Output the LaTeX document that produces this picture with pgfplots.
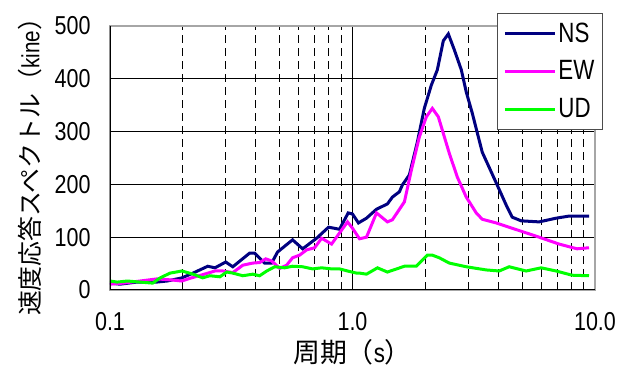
\documentclass[border=0pt]{standalone}
\usepackage{pgfplots}
\pgfplotsset{compat=1.18}
\usepackage{fontspec}
\setmainfont{Liberation Sans}
\newfontfamily\narrowfont[FakeStretch=0.83]{Liberation Sans}
\newfontfamily\legfont[FakeStretch=0.8]{Liberation Sans}
\newfontfamily\cjk{Noto Sans CJK JP}
\definecolor{nsblue}{RGB}{0,0,128}
\definecolor{ewmag}{RGB}{255,0,255}
\definecolor{udgreen}{RGB}{0,255,0}
\begin{document}
\begin{tikzpicture}
\useasboundingbox (-55bp,-41bp) rectangle (258bp,145bp);
\begin{axis}[
  scale only axis, width=242.5bp, height=132bp,
  xmode=log, xmin=0.1, xmax=10, ymin=0, ymax=500,
  xtick={0.1,1,10}, xticklabels={0.1,1.0,10.0},
  ytick={0,100,200,300,400,500},
  minor xtick={0.2,0.3,0.4,0.5,0.6,0.7,0.8,0.9,2,3,4,5,6,7,8,9},
  xmajorgrids, xminorgrids, ymajorgrids,
  major grid style={black, line width=0.5bp},
  minor grid style={black, line width=0.5bp, dash pattern=on 4bp off 2.5bp},
  tick pos=left,
  major tick length=2bp, minor tick length=2bp,
  tick style={black, line width=0.5bp},
  axis line style={draw=gray!70, line width=1bp},
  /pgf/number format/assume math mode=true,
  ticklabel style={font=\narrowfont\fontsize{13}{15}\selectfont},
  yticklabel style={xshift=-6.2bp},
  xticklabel style={yshift=-7.7bp},
  xlabel={{\cjk 周期（}s{\cjk ）}},
  ylabel={{\cjk 速度応答スペクトル（}kine{\cjk ）}},
  xlabel style={at={(axis description cs:0.5,0)}, anchor=center, yshift=-31bp, font=\narrowfont\fontsize{13.5}{15}\selectfont},
  ylabel style={at={(axis description cs:0,0.489)}, anchor=center, yshift=40bp, font=\narrowfont\fontsize{12.5}{15}\selectfont},
  legend style={at={(rel axis cs:1,1)}, anchor=north east, xshift=4bp, yshift=6.5bp,
    font=\legfont\fontsize{14}{16}\selectfont, draw=black!70, line width=0.6bp, row sep=5.75bp,
    cells={anchor=west}, nodes={inner sep=1bp}, inner xsep=3bp, inner ysep=3.5bp, fill=white},
  legend image code/.code={\draw[#1] (0bp,0bp) -- (25bp,0bp);},
]
\addplot[nsblue, line width=1.5bp] table {
0.100 13
0.110 11
0.129 15
0.156 15
0.172 17
0.198 23
0.220 32
0.253 45
0.271 42
0.300 53
0.321 44
0.377 70
0.395 70
0.434 51
0.464 51
0.491 72
0.566 95
0.623 78
0.711 98
0.797 119
0.884 115
0.960 146
1.000 144
1.058 127
1.142 136
1.256 153
1.393 163
1.461 176
1.561 186
1.606 199
1.716 218
1.851 280
1.978 344
2.114 388
2.238 417
2.369 472
2.484 485
2.629 455
2.810 417
2.945 375
3.118 335
3.428 261
3.914 203
4.302 161
4.554 138
4.960 131
5.883 129
6.910 136
7.817 140
9.447 140
};
\addlegendentry{NS}
\addplot[ewmag, line width=1.5bp] table {
0.100 11
0.113 13
0.133 17
0.156 21
0.180 19
0.198 17
0.213 22
0.241 29
0.271 36
0.292 36
0.321 33
0.353 47
0.388 51
0.414 52
0.439 59
0.464 55
0.501 41
0.535 47
0.566 61
0.605 66
0.647 76
0.698 80
0.746 98
0.820 87
0.884 108
0.954 129
1.000 117
1.069 97
1.142 100
1.256 146
1.393 129
1.461 133
1.637 167
1.749 227
1.887 290
2.016 328
2.134 344
2.259 328
2.507 259
2.705 214
2.945 176
3.238 146
3.428 134
3.914 127
4.554 117
5.883 100
7.111 87
8.434 78
9.447 80
};
\addlegendentry{EW}
\addplot[udgreen, line width=1.5bp] table {
0.100 17
0.107 15
0.118 17
0.133 15
0.150 13
0.161 23
0.177 32
0.198 36
0.220 30
0.241 23
0.258 27
0.284 25
0.303 34
0.321 32
0.353 27
0.388 30
0.414 27
0.443 36
0.478 44
0.525 42
0.566 45
0.623 44
0.684 40
0.746 42
0.820 40
0.884 40
0.954 36
1.039 32
1.069 32
1.142 30
1.268 42
1.393 34
1.637 45
1.834 45
2.035 66
2.134 66
2.280 61
2.507 51
2.945 44
3.560 38
4.027 36
4.427 44
5.200 36
5.996 42
6.910 36
8.042 28
9.447 27
};
\addlegendentry{UD}
\draw[black, line width=1bp] (rel axis cs:0,1) -- (rel axis cs:0,0) -- (rel axis cs:1,0);
\end{axis}
\end{tikzpicture}
\end{document}
